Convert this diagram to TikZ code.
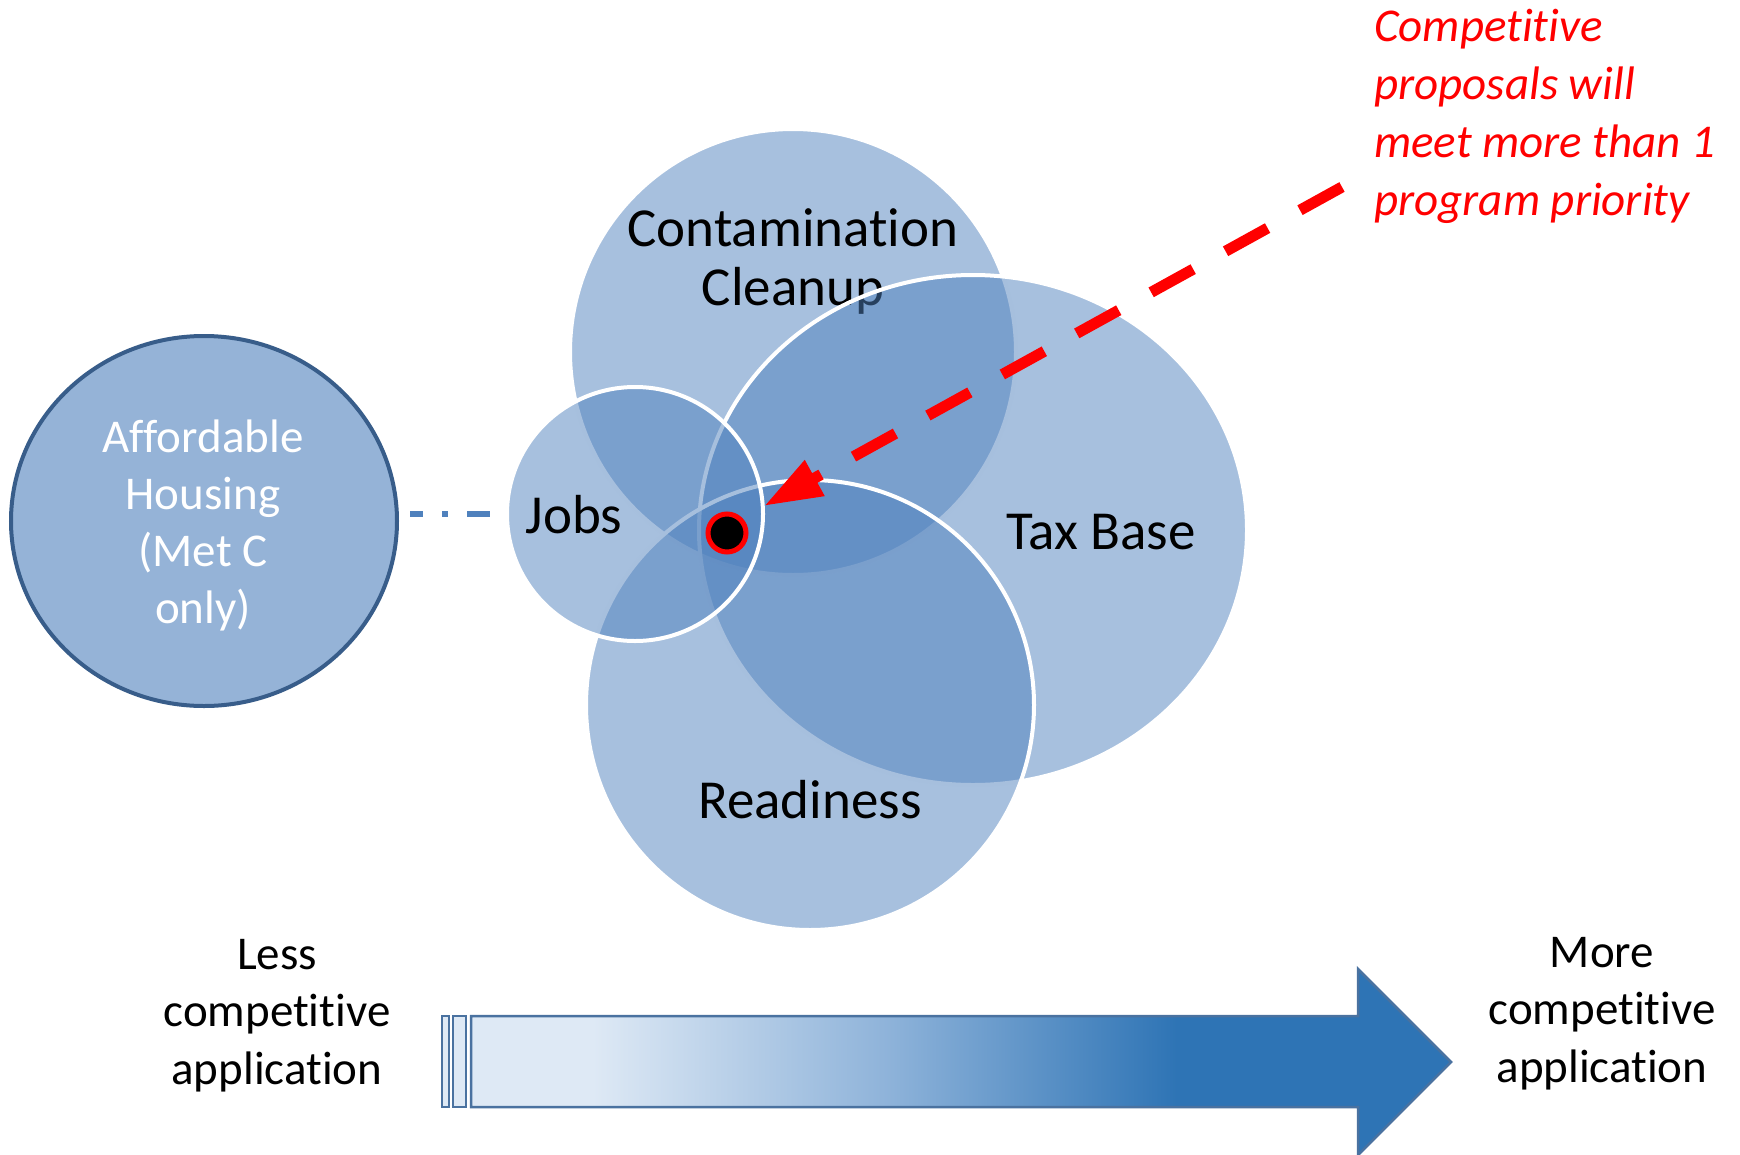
\documentclass[tikz,border=0pt]{standalone}
\usepackage{fontspec}
\setmainfont{Carlito}[Ligatures=NoCommon]
\usetikzlibrary{arrows.meta,shapes.geometric}
\definecolor{venn}{HTML}{4F81BD}
\definecolor{ahfill}{HTML}{95B3D7}
\definecolor{ahline}{HTML}{385D8A}
\definecolor{lightB}{HTML}{DEE9F5}
\definecolor{midB}{HTML}{8DB2D9}
\definecolor{darkB}{HTML}{2E74B5}
\definecolor{arrline}{HTML}{4A72A0}
\pgfdeclarehorizontalshading{arrowshade}{100bp}{color(0bp)=(lightB); color(31.2bp)=(lightB); color(46.5bp)=(midB); color(61bp)=(darkB); color(100bp)=(darkB)}
\begin{document}
\begin{tikzpicture}[x=1pt,y=-1pt,
  vennset/.style={ellipse, draw=white, line width=4pt, fill=venn, fill opacity=0.5, inner sep=0pt, outer sep=0pt},
  biglabel/.style={font=\fontsize{55}{59}\selectfont, text=black, align=center, inner sep=0pt},
  whitelabel/.style={font=\fontsize{47}{57}\selectfont, text=white, align=center, inner sep=0pt},
  sidelabel/.style={font=\fontsize{47}{57.5}\selectfont, text=black, align=center, inner sep=0pt},
  redlabel/.style={font=\fontsize{47}{58}\selectfont\itshape, text=red, align=left, inner sep=0pt},
  barline/.style={draw=arrline, line width=2.5pt}
]
\useasboundingbox (0,0) rectangle (1740,1154);

% Affordable housing
\node[ellipse, draw=ahline, fill=ahfill, line width=4pt, inner sep=0pt, outer sep=0pt,
      minimum width=386pt, minimum height=370pt] (aff) at (204,521) {};
\node[whitelabel, anchor=base] (afftext) at (203,623) {Affordable\\Housing\\(Met C\\only)};

% Venn sets
\node[vennset, minimum width=446pt, minimum height=446pt] (clean) at (793,352) {};
\node[biglabel, anchor=base] (cleantext) at (793,305) {Contamination\\Cleanup};
\node[vennset, minimum width=548pt, minimum height=510pt] (tax) at (973,530) {};
\node[vennset, minimum width=448pt, minimum height=450pt] (ready) at (810,705) {};
\node[vennset, minimum width=256pt, minimum height=254pt] (jobs) at (635,514) {};

\node[biglabel, anchor=base] (jobstext) at (574,533) {Jobs};
\node[biglabel, anchor=base] (taxtext) at (1101,549) {Tax Base};
\node[biglabel, anchor=base] (readytext) at (810,818) {Readiness};

% dash-dot connector
\draw[venn, line width=6pt, dash pattern=on 23pt off 19pt on 6pt off 19pt, dash phase=10pt,
      shorten <=13pt, shorten >=17pt] (aff.east |- jobs.west) -- (jobs.west);

% centre dot
\node[circle, fill=black, draw=red, line width=5pt, minimum size=38pt, inner sep=0pt] (dot) at (727,533) {};

% red note and arrow
\node[redlabel, anchor=base west] (note) at (1374,215) {Competitive\\proposals will\\meet more than 1\\program priority};
\coordinate (rstart) at (1342,187);
\coordinate (rtip) at (764,506);
\draw[red, line width=11pt, dash pattern=on 48pt off 37pt, -{Triangle[length=58pt,width=38pt]}] (rstart) -- (rtip);

% bottom gradient arrow
\draw[barline, fill=lightB] (442,1016) rectangle (449,1107);
\draw[barline, fill=lightB] (453,1016) rectangle (466,1107);
\shadedraw[shading=arrowshade, barline] (471,1016) -- (1358,1016) -- (1358,969) -- (1451,1062) -- (1358,1155) -- (1358,1107) -- (471,1107) -- cycle;

\node[sidelabel, anchor=base] (less) at (277,1084) {Less\\competitive\\application};
\node[sidelabel, anchor=base] (more) at (1602,1082) {More\\competitive\\application};
\end{tikzpicture}
\end{document}
